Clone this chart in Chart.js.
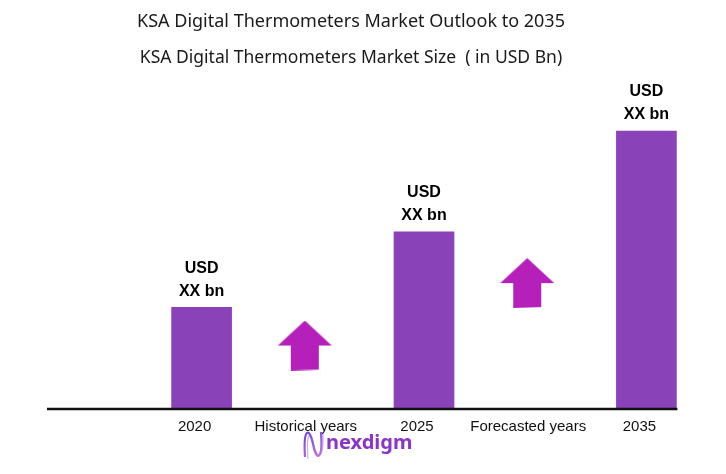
<!DOCTYPE html>
<html>
<head>
<meta charset="utf-8">
<script src="https://cdn.jsdelivr.net/npm/chart.js@4.4.1/dist/chart.umd.min.js"></script>
<style>
  html, body { margin: 0; padding: 0; background: #fff; }
  #box { width: 726px; height: 474px; }
</style>
</head>
<body>
<div id="box"><canvas id="marketChart"></canvas></div>
<script>
// chart data
let categories = ["2020", "Historical years", "2025", "Forecasted years", "2035"];
let marketSize = [1.0, null, 1.75, null, 2.75];
let arrowLevel = [null, 0.62, null, 1.24, null];
let barLabelTop = "USD";
let barLabelBottom = "XX bn";

let barColor = "#8A42B9";
let arrowColor = "#B420B9";

// up arrow used as point style (drawn a bit left of centre)
function makeArrow() {
    let c = document.createElement("canvas");
    c.width = 70;
    c.height = 50;
    let g = c.getContext("2d");
    g.fillStyle = arrowColor;
    g.beginPath();
    g.moveTo(27, 0);
    g.lineTo(54, 25);
    g.lineTo(41, 25);
    g.lineTo(41, 49);
    g.lineTo(13, 50);
    g.lineTo(13, 25);
    g.lineTo(0, 25);
    g.closePath();
    g.fill();
    return c;
}

let barTexts = {
    id: "barTexts",
    afterDatasetsDraw(chart) {
        let ctx = chart.ctx;
        let meta = chart.getDatasetMeta(0);
        ctx.save();
        ctx.fillStyle = "#000";
        ctx.font = "bold 16px 'Liberation Sans', Arial, sans-serif";
        ctx.textAlign = "center";
        ctx.textBaseline = "middle";
        meta.data.forEach((bar, i) => {
            if (marketSize[i] == null) return;
            ctx.fillText(barLabelTop, bar.x, bar.y - 39);
            ctx.fillText(barLabelBottom, bar.x, bar.y - 16);
        });

        // base line
        let last = meta.data[meta.data.length - 1];
        let y0 = chart.scales.y.getPixelForValue(0);
        ctx.strokeStyle = "#111";
        ctx.lineWidth = 2.5;
        ctx.beginPath();
        ctx.moveTo(47, y0 + 1);
        ctx.lineTo(last.x + last.width / 2 + 1, y0 + 1);
        ctx.stroke();
        ctx.restore();
    }
};

let logo = {
    id: "logo",
    afterDraw(chart) {
        let ctx = chart.ctx;
        ctx.save();
        let grad = ctx.createLinearGradient(303, 430, 324, 460);
        grad.addColorStop(0, "#6A3FD6");
        grad.addColorStop(1, "#C77BE6");
        ctx.strokeStyle = grad;
        ctx.lineWidth = 2.2;
        ctx.beginPath();
        ctx.moveTo(305, 457);
        ctx.bezierCurveTo(303, 426, 310, 428, 313, 444);
        ctx.bezierCurveTo(316, 461, 323, 462, 321, 432);
        ctx.stroke();
        ctx.globalAlpha = 0.5;
        ctx.lineWidth = 1.2;
        ctx.beginPath();
        ctx.moveTo(308, 459);
        ctx.bezierCurveTo(306, 430, 311, 430, 314, 446);
        ctx.bezierCurveTo(317, 459, 324, 460, 323, 434);
        ctx.stroke();
        ctx.globalAlpha = 1;
        ctx.fillStyle = "#8A35C9";
        ctx.font = "bold 20px 'Noto Sans', sans-serif";
        ctx.textBaseline = "alphabetic";
        ctx.fillText("nexdigm", 326, 449);
        ctx.restore();
    }
};

new Chart(document.getElementById("marketChart"), {
    data: {
        labels: categories,
        datasets: [{
            type: "bar",
            data: marketSize,
            backgroundColor: barColor,
            barThickness: 60,
            order: 2
        }, {
            type: "line",
            data: arrowLevel,
            showLine: false,
            pointStyle: makeArrow(),
            order: 1
        }]
    },
    options: {
        responsive: true,
        maintainAspectRatio: false,
        animation: false,
        layout: {
            padding: { left: 0, right: 24, top: 0, bottom: 28 }
        },
        plugins: {
            legend: { display: false },
            tooltip: { enabled: false },
            title: {
                display: true,
                text: "KSA Digital Thermometers Market Outlook to 2035",
                color: "#1a1a1a",
                font: { family: "'Noto Sans', sans-serif", size: 18, weight: "normal" },
                padding: { top: 11, bottom: 15 }
            },
            subtitle: {
                display: true,
                text: "KSA Digital Thermometers Market Size  ( in USD Bn)",
                color: "#1a1a1a",
                font: { family: "'Noto Sans', sans-serif", size: 17.5, weight: "normal" },
                padding: { top: 0, bottom: 6 }
            }
        },
        scales: {
            x: {
                grid: { display: false, drawTicks: false },
                border: { display: false },
                ticks: {
                    color: "#111",
                    padding: 10,
                    labelOffset: -7,
                    autoSkip: false,
                    maxRotation: 0,
                    font: { family: "'Liberation Sans', Arial, sans-serif", size: 15 }
                }
            },
            y: {
                min: 0,
                max: 3.31,
                grid: { display: false },
                border: { display: false },
                ticks: { display: false },
                afterFit(scale) {
                    scale.width = 146;
                }
            }
        }
    },
    plugins: [barTexts, logo]
});
</script>
</body>
</html>
